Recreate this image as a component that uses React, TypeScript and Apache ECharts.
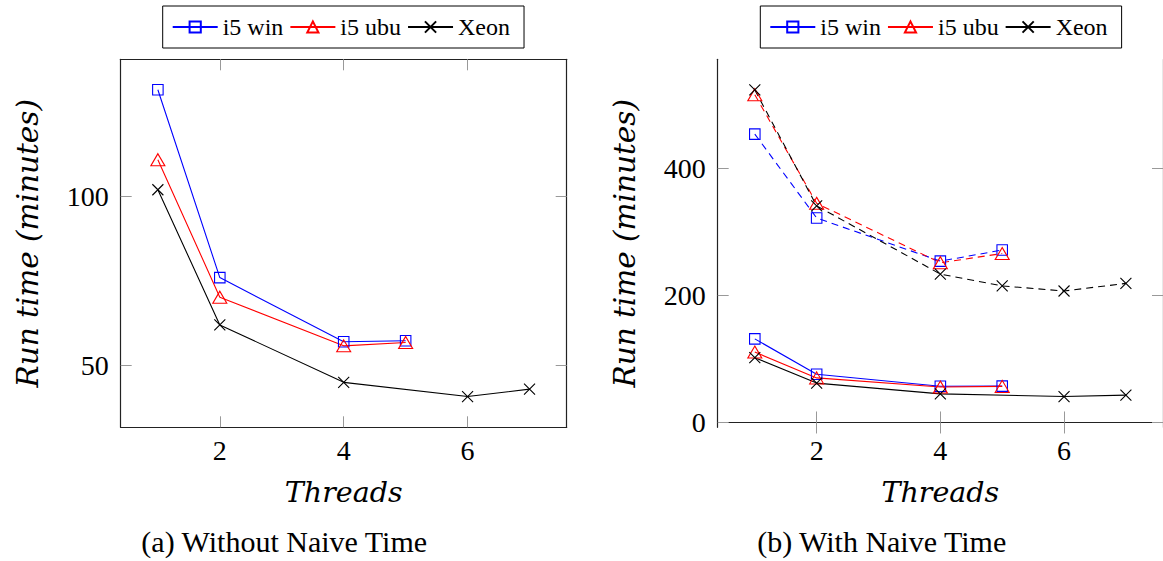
import React, { useEffect, useRef } from 'react';
import * as echarts from 'echarts';

// ---- data ----
const seriesNames = ['i5 win', 'i5 ubu', 'Xeon'];
const threadsWin = [1, 2, 4, 5];
const threadsUbu = [1, 2, 4, 5];
const threadsXeon = [1, 2, 4, 6, 7];
const threadsXeonNaive = [1, 2, 4, 5, 6, 7];
const winTime = [131.6, 76, 57, 57.3];
const ubuTime = [110.9, 70.2, 55.8, 56.8];
const xeonTime = [102, 62, 45, 40.8, 43];
const winNaiveTime = [454, 322, 254, 271.5];
const ubuNaiveTime = [516, 345, 251.5, 266];
const xeonNaiveTime = [523.6, 341, 233.7, 215, 207, 219];
const xTickValues = [2, 4, 6];
const yTickValuesA = [50, 100];
const yTickValuesB = [0, 200, 400];
const captions = ['(a) Without Naive Time', '(b) With Naive Time'];
const xName = 'Threads';
const yName = 'Run time (minutes)';

const SERIF = 'Liberation Serif';
const DSERIF = 'DejaVu Serif';
const BLUE = '#0000ff';
const RED = '#ff0000';
const BLACK = '#000000';

const SYM = {
  square: { symbol: 'rect', size: 10.5 as any },
  triangle: { symbol: 'triangle', size: [14, 12] as any },
  cross: { symbol: 'path://M0,0L10,10M10,0L0,10', size: 11 as any },
};

const zip = (xs: number[], ys: number[]) => xs.map((x, i) => [x, ys[i]]);

function mkSeries(name: string, xs: number[], ys: number[], color: string, sym: any, axis: number, dashed: boolean) {
  return {
    type: 'line',
    name,
    data: zip(xs, ys),
    xAxisIndex: axis * 2,
    yAxisIndex: axis * 2,
    symbol: sym.symbol,
    symbolSize: sym.size,
    lineStyle: { color, width: 1.1, type: dashed ? [7, 5] : 'solid' },
    itemStyle: { color: 'transparent', borderColor: color, borderWidth: 1.1 },
    emphasis: { disabled: true },
    silent: true,
  };
}

function xAxes(grid: number, min: number, max: number) {
  const tick = { show: true, inside: true, length: 11, customValues: xTickValues, lineStyle: { color: '#999', width: 1 } };
  const line = { show: true, lineStyle: { color: '#222', width: 1.2 } };
  return [
    {
      type: 'value', gridIndex: grid, position: 'bottom', min, max,
      axisLine: line, axisTick: tick, splitLine: { show: false },
      axisLabel: { customValues: xTickValues, margin: 9, fontFamily: SERIF, fontSize: 28, color: '#000', lineHeight: 28 },
      name: xName, nameLocation: 'middle', nameGap: 51,
      nameTextStyle: { fontFamily: DSERIF, fontStyle: 'italic', fontSize: 28.5, color: '#000', lineHeight: 28 },
    },
    {
      type: 'value', gridIndex: grid, position: 'top', min, max,
      axisLine: line, axisTick: tick, splitLine: { show: false }, axisLabel: { show: false },
    },
  ];
}

function yAxes(grid: number, min: number, max: number, ticks: number[]) {
  const tick = { show: true, inside: true, length: 11, customValues: ticks, lineStyle: { color: '#999', width: 1 } };
  const line = { show: true, lineStyle: { color: '#222', width: 1.2 } };
  return [
    {
      type: 'value', gridIndex: grid, position: 'left', min, max,
      axisLine: line, axisTick: tick, splitLine: { show: false },
      axisLabel: { customValues: ticks, margin: 12, fontFamily: SERIF, fontSize: 28, color: '#000' },
      name: yName, nameLocation: 'middle', nameGap: 78,
      nameTextStyle: { fontFamily: DSERIF, fontStyle: 'italic', fontSize: 29.5, color: '#000', lineHeight: 30 },
    },
    {
      type: 'value', gridIndex: grid, position: 'right', min, max,
      axisLine: line, axisTick: tick, splitLine: { show: false }, axisLabel: { show: false },
    },
  ];
}

function legend(left: number) {
  return {
    data: seriesNames,
    left, top: 6,
    orient: 'horizontal',
    itemWidth: 45, itemHeight: 14, itemGap: 6,
    padding: [9, 14, 9, 9],
    borderColor: '#000', borderWidth: 1, backgroundColor: '#fff',
    selectedMode: false,
    textStyle: { fontFamily: SERIF, fontSize: 24, color: '#000', lineHeight: 24 },
  };
}

export default function App() {
  const ref = useRef<HTMLDivElement>(null);
  useEffect(() => {
    if (!ref.current) return;
    const chart = echarts.init(ref.current, null, { renderer: 'svg' });
    const option: any = {
      animation: false,
      backgroundColor: '#fff',
      grid: [
        { left: 120.7, top: 59.3, width: 446, height: 368 },
        { left: 717.7, top: 59.3, width: 446.5, height: 368 },
      ],
      xAxis: [...xAxes(0, 0.4, 7.6), ...xAxes(1, 0.4, 7.6)],
      yAxis: [...yAxes(0, 31.7, 140.6, yTickValuesA), ...yAxes(1, -7.6, 571.8, yTickValuesB)],
      legend: [legend(162.7), legend(760.3)],
      series: [
        mkSeries(seriesNames[0], threadsWin, winTime, BLUE, SYM.square, 0, false),
        mkSeries(seriesNames[1], threadsUbu, ubuTime, RED, SYM.triangle, 0, false),
        mkSeries(seriesNames[2], threadsXeon, xeonTime, BLACK, SYM.cross, 0, false),
        mkSeries(seriesNames[0], threadsWin, winTime, BLUE, SYM.square, 1, false),
        mkSeries(seriesNames[1], threadsUbu, ubuTime, RED, SYM.triangle, 1, false),
        mkSeries(seriesNames[2], threadsXeon, xeonTime, BLACK, SYM.cross, 1, false),
        mkSeries(seriesNames[0], threadsWin, winNaiveTime, BLUE, SYM.square, 1, true),
        mkSeries(seriesNames[1], threadsUbu, ubuNaiveTime, RED, SYM.triangle, 1, true),
        mkSeries(seriesNames[2], threadsXeonNaive, xeonNaiveTime, BLACK, SYM.cross, 1, true),
      ],
      graphic: [
        { type: 'text', x: 284.2, y: 541, style: { text: captions[0], align: 'center', verticalAlign: 'middle', fontFamily: SERIF, fontSize: 30, fill: '#000' } },
        { type: 'text', x: 881.7, y: 541, style: { text: captions[1], align: 'center', verticalAlign: 'middle', fontFamily: SERIF, fontSize: 30, fill: '#000' } },
      ],
    };
    chart.setOption(option);
    return () => chart.dispose();
  }, []);
  return (
    <div style={{ position: 'fixed', left: 0, top: 0, width: 1163, height: 561, background: '#fff' }}>
      <div ref={ref} style={{ width: 1163, height: 561 }} />
    </div>
  );
}
